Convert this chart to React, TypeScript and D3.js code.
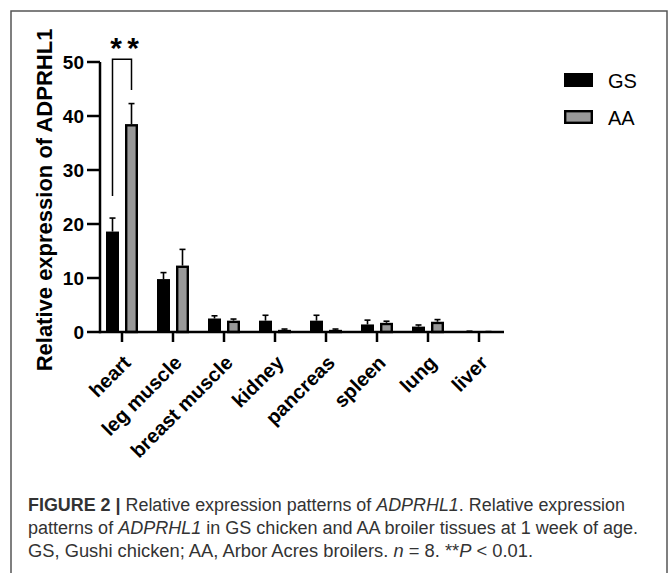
import React from "react";
import * as d3 from "d3";

const categories = ["heart", "leg muscle", "breast muscle", "kidney", "pancreas", "spleen", "lung", "liver"];
const series = ["GS", "AA"];
const gsMean = [18.6, 9.8, 2.5, 2.1, 2.1, 1.4, 1.0, 0.1];
const gsErr = [2.5, 1.2, 0.5, 1.0, 1.0, 0.8, 0.3, 0.05];
const aaMean = [38.5, 12.3, 2.1, 0.4, 0.4, 1.7, 1.9, 0.05];
const aaErr = [3.8, 3.0, 0.3, 0.15, 0.15, 0.3, 0.4, 0.03];
const yTicks = [0, 10, 20, 30, 40, 50];
const sigBracket = { cat: "heart", leftFrom: 25.2, rightFrom: 44.8, top: 50.5, label: "*" };

export default function App() {
  const y = d3.scaleLinear().domain([0, 50]).range([332, 62]);
  const x0 = d3.scaleBand().domain(categories).range([96.5, 504.5]).padding(0);
  const bw = x0.bandwidth();
  const x1 = d3.scaleBand().domain(series).range([bw / 2 - 16, bw / 2 + 16]).paddingInner(0.316);
  const b = x1.bandwidth();
  const font = "'Liberation Sans', Arial, sans-serif";
  const data = [
    { s: "GS", mean: gsMean, err: gsErr },
    { s: "AA", mean: aaMean, err: aaErr },
  ];
  const hx = (x0(sigBracket.cat) as number);
  const lx = hx + (x1("GS") as number) + b / 2;
  const rx = hx + (x1("AA") as number) + b / 2;
  const mid = (lx + rx) / 2;
  return (
    <svg width={670} height={573} style={{ position: "absolute", left: 0, top: 0, background: "#fff" }} fontFamily={font}>
      <rect x={11} y={11} width={656} height={620} fill="none" stroke="#555" strokeWidth={1.5} />
      {/* bars */}
      {data.map((d) =>
        categories.map((c, i) => {
          const bx = (x0(c) as number) + (x1(d.s) as number);
          const top = y(d.mean[i]);
          const etop = y(d.mean[i] + d.err[i]);
          const cx = bx + b / 2;
          return (
            <g key={d.s + c}>
              <line x1={cx} x2={cx} y1={top} y2={etop} stroke="#000" strokeWidth={1.6} />
              <line x1={cx - 3} x2={cx + 3} y1={etop} y2={etop} stroke="#000" strokeWidth={1.6} />
              {d.s === "GS" ? (
                <rect x={bx} y={top} width={b} height={332 - top} fill="#000" />
              ) : (
                <rect x={bx + 1.2} y={top + 1.2} width={b - 2.4} height={Math.max(0, 332 - top - 1.2)} fill="#999" stroke="#000" strokeWidth={2.4} />
              )}
            </g>
          );
        })
      )}
      {/* y axis */}
      <line x1={100} x2={100} y1={y(50)} y2={y(0) + 1.2} stroke="#000" strokeWidth={2.5} />
      {yTicks.map((t) => (
        <g key={t}>
          <line x1={87} x2={100} y1={y(t)} y2={y(t)} stroke="#000" strokeWidth={2.5} />
          <text x={84} y={y(t)} dy="0.36em" textAnchor="end" fontWeight="bold" fontSize={19}>{t}</text>
        </g>
      ))}
      {/* x axis */}
      <line x1={100} x2={504} y1={332} y2={332} stroke="#000" strokeWidth={2.5} />
      {categories.map((c) => {
        const cx = (x0(c) as number) + bw / 2;
        return (
          <g key={c}>
            <line x1={cx} x2={cx} y1={332} y2={342} stroke="#000" strokeWidth={2.5} />
            <text transform={`translate(${cx + 10},${364}) rotate(-45)`} textAnchor="end" fontWeight="bold" fontSize={20}>{c}</text>
          </g>
        );
      })}
      {/* y title */}
      <text transform={`translate(52,200) rotate(-90)`} textAnchor="middle" fontWeight="bold" fontSize={22}>Relative expression of ADPRHL1</text>
      {/* significance */}
      <path d={`M${lx},${y(sigBracket.leftFrom)} V${y(sigBracket.top)} H${rx} V${y(sigBracket.rightFrom)}`} fill="none" stroke="#000" strokeWidth={1.5} />
      <text x={mid - 6} y={58} textAnchor="middle" fontWeight="bold" fontSize={30}>{sigBracket.label}</text>
      <text x={mid + 11} y={58} textAnchor="middle" fontWeight="bold" fontSize={30}>{sigBracket.label}</text>
      {/* legend */}
      <rect x={564} y={73} width={29} height={14} fill="#000" />
      <text x={608} y={88} fontSize={20}>GS</text>
      <rect x={565.2} y={111.2} width={26.6} height={11.6} fill="#999" stroke="#000" strokeWidth={2.4} />
      <text x={608} y={125} fontSize={20}>AA</text>
      {/* caption */}
      <g fill="#333" fontSize={18} fontFamily="'Liberation Sans', Arial, sans-serif">
        <text x={28} y={511} textLength={597} lengthAdjust="spacingAndGlyphs">
          <tspan fontWeight="bold">FIGURE 2 |</tspan>
          <tspan> Relative expression patterns of </tspan>
          <tspan fontStyle="italic">ADPRHL1</tspan>
          <tspan>. Relative expression</tspan>
        </text>
        <text x={28} y={534} textLength={610} lengthAdjust="spacingAndGlyphs">
          <tspan>patterns of </tspan>
          <tspan fontStyle="italic">ADPRHL1</tspan>
          <tspan> in GS chicken and AA broiler tissues at 1 week of age.</tspan>
        </text>
        <text x={28} y={557} textLength={505} lengthAdjust="spacingAndGlyphs">
          <tspan>GS, Gushi chicken; AA, Arbor Acres broilers. </tspan>
          <tspan fontStyle="italic">n</tspan>
          <tspan> = 8. **</tspan>
          <tspan fontStyle="italic">P</tspan>
          <tspan> &lt; 0.01.</tspan>
        </text>
      </g>
    </svg>
  );
}
